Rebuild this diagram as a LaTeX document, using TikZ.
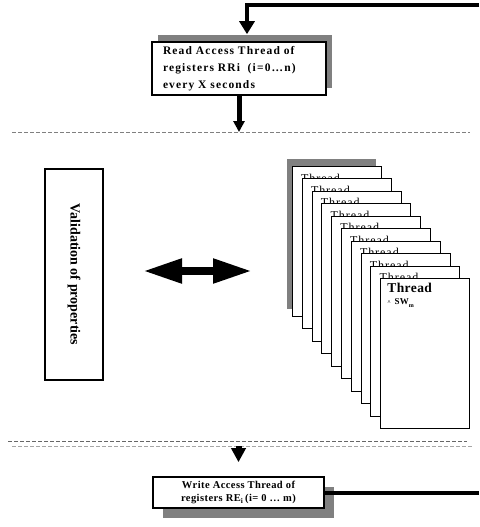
\documentclass[tikz,border=0pt]{standalone}
\usepackage{fontspec}
\setmainfont{Liberation Serif}
\usetikzlibrary{arrows.meta, shadows}

\tikzset{
	accbox/.style={draw, line width=1.6pt, fill=white, rectangle},
	sheet/.style={draw, line width=0.9pt, fill=white, rectangle, minimum width=89pt, minimum height=150pt, anchor=north west, inner sep=0pt},
	sheettext/.style={anchor=north west, inner sep=0pt, xshift=9pt, yshift=-7.5pt, font=\fontsize{12}{12}\selectfont\addfontfeatures{LetterSpace=8}},
	sepline/.style={line width=0.8pt, dash pattern=on 4pt off 2pt},
	fat/.style={line width=4pt, -{Triangle[width=15pt,length=13pt]}},
}

\begin{document}
\begin{tikzpicture}[x=1pt, y=-1pt]
	\useasboundingbox (0,0) rectangle (479,527);

	% read side
	\coordinate (backin) at (479,5);
	\node (readbox) at (239,68.5) [accbox, minimum width=174pt, minimum height=53pt, text width=152pt, align=left, general shadow={fill=gray, draw=none, shadow xshift=6pt, shadow yshift=7pt}, font=\bfseries\fontsize{11.5}{17}\selectfont\addfontfeatures{LetterSpace=10}] {Read Access Thread of\\registers RRi~ (i=0\ldots n)\\every X seconds};
	\draw[fat] (backin) -| ([xshift=8pt,yshift=7pt]readbox.north);

	\coordinate (sepa) at (12,132);
	\draw[sepline, gray] (sepa) -- (470,132);
	\draw[line width=5pt, -{Triangle[width=11pt,length=11pt]}] (readbox.south) -- (readbox.south |- sepa);

	% validation
	\node (valbox) at (74,274.5) [accbox, rotate=-90, minimum width=211pt, minimum height=58pt, font=\bfseries\fontsize{14}{16}\selectfont] {Validation of properties};
	\coordinate (linkl) at (143,271);
	\coordinate (linkr) at (252,271);
	\draw[line width=8pt, {Triangle[width=23pt,length=39pt]}-{Triangle[width=23pt,length=39pt]}] (linkl) -- (linkr);

	% threads
	\node (sheet0) at (292,166) [sheet, general shadow={fill=gray, draw=none, shadow xshift=-5pt, shadow yshift=7pt}, label={[sheettext]north west:Thread}] {};
	\foreach \i in {1,...,8}
		\node (sheet\i) at (292+9.8*\i, 166+12.45*\i) [sheet, label={[sheettext]north west:Thread}] {};
	\node (sheet9) at (380.2,278) [sheet, label={[anchor=north west, inner sep=0pt, xshift=7pt, yshift=-5pt, align=left, font=\bfseries\fontsize{13.5}{13}\selectfont\addfontfeatures{LetterSpace=3}]north west:Thread\\[-1pt]{\fontsize{6}{6}\selectfont\textasciicircum}~{\fontsize{9}{9}\selectfont SW}\raisebox{-3pt}{\fontsize{6}{6}\selectfont m}}] {};

	% write side
	\coordinate (sepb) at (8,441);
	\coordinate (sepc) at (12,446);
	\draw[sepline, gray!80!black] (sepb) -- (467,441);
	\draw[sepline, gray!70] (sepc) -- (472,446);

	\node (writebox) at (238.5,492.5) [accbox, minimum width=171pt, minimum height=31pt, align=center, general shadow={fill=gray, draw=none, shadow xshift=10pt, shadow yshift=-10pt}, font=\bfseries\fontsize{10.5}{13}\selectfont\addfontfeatures{LetterSpace=4}] {Write Access Thread of\\registers RE\textsubscript{i}\,(i= 0 \ldots\ m)};
	\draw[line width=6pt, -{Triangle[width=14pt,length=14pt]}] (writebox.north |- sepc) -- ([yshift=14pt]writebox.north);

	\coordinate (backout) at (479,491);
	\draw[line width=4pt] (writebox.east) -- (writebox.east -| backout);
\end{tikzpicture}
\end{document}
